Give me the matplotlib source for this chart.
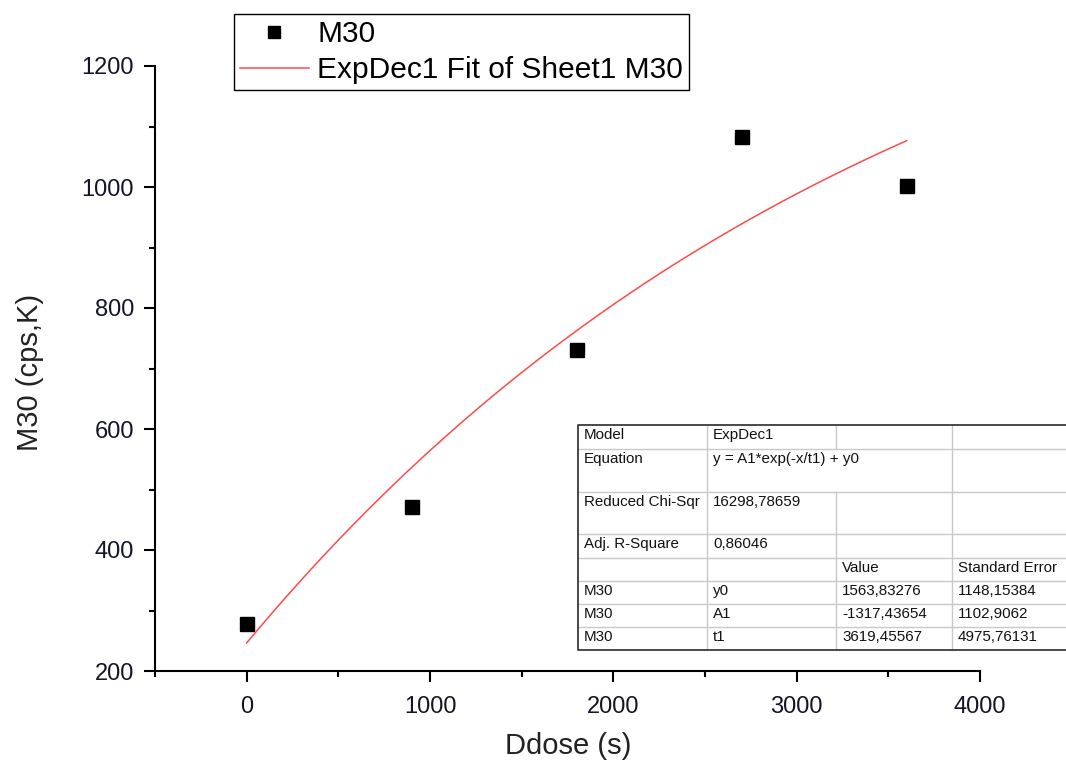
import numpy as np
import matplotlib
matplotlib.use("Agg")
import matplotlib.pyplot as plt
from matplotlib.lines import Line2D
from matplotlib.ticker import MultipleLocator

plt.rcParams['font.family'] = ['Liberation Sans', 'DejaVu Sans']

# measured points
dose = [0, 900, 1800, 2700, 3600]
m30 = [278, 471, 730, 1083, 1002]

# ExpDec1 fit parameters (from the fit table)
y0 = 1563.83276
A1 = -1317.43654
t1 = 3619.45567

# fit table contents
table_rows = [
    ["Model", "ExpDec1", "", ""],
    ["Equation", "y = A1*exp(-x/t1) + y0", None, ""],
    ["Reduced Chi-Sqr", "16298,78659", "", ""],
    ["Adj. R-Square", "0,86046", "", ""],
    ["", "", "Value", "Standard Error"],
    ["M30", "y0", "1563,83276", "1148,15384"],
    ["M30", "A1", "-1317,43654", "1102,9062"],
    ["M30", "t1", "3619,45567", "4975,76131"],
]

W, H = 1066, 765
fig = plt.figure(figsize=(W / 100, H / 100), dpi=100)
ax = fig.add_axes([155 / W, 1 - 671 / H, 825 / W, 605 / H])

ax.plot(dose, m30, 's', color='black', markersize=9.5, label='M30', zorder=3)
xf = np.linspace(min(dose), max(dose), 200)
ax.plot(xf, A1 * np.exp(-xf / t1) + y0, color='#ff4a4a', lw=1.1,
        label='ExpDec1 Fit of Sheet1 M30')

ax.set_xlim(-500, 4000)
ax.set_ylim(200, 1200)
ax.xaxis.set_major_locator(MultipleLocator(1000))
ax.xaxis.set_minor_locator(MultipleLocator(500))
ax.yaxis.set_major_locator(MultipleLocator(200))
ax.yaxis.set_minor_locator(MultipleLocator(100))
for s in ['top', 'right']:
    ax.spines[s].set_visible(False)
for s in ['left', 'bottom']:
    ax.spines[s].set_linewidth(1.5)
ax.tick_params(axis='both', which='major', direction='out', length=8,
               width=1.5, labelsize=17, labelcolor='#15152a')
ax.tick_params(axis='x', which='major', pad=10)
ax.tick_params(axis='y', which='major', pad=7)
ax.tick_params(which='minor', direction='out', length=4, width=1.5)

ax.set_xlabel('Ddose (s)', fontsize=21, color='#222222')
ax.set_ylabel('M30 (cps,K)', fontsize=21, color='#222222')
ax.xaxis.set_label_coords(568 / W, 1 - 732 / H, transform=fig.transFigure)
ax.yaxis.set_label_coords(44 / W, 1 - 372 / H, transform=fig.transFigure)

leg = ax.legend(loc='upper left', bbox_to_anchor=(234 / W, 1 - 14 / H),
                bbox_transform=fig.transFigure, borderaxespad=0,
                fontsize=21.5, frameon=True, fancybox=False, framealpha=1,
                edgecolor='black', handlelength=2.3, handletextpad=0.28,
                labelspacing=0.28, borderpad=0.2, markerscale=0.9)
leg.get_frame().set_linewidth(1.0)

# fit results table, drawn in pixel coordinates
col_x = [578, 707, 836, 952, 1066]
row_y = [425, 449, 492, 534, 558, 581, 604, 627, 650]


def fx(px):
    return px / W


def fy(py):
    return 1 - py / H


fig.patches.append(plt.Rectangle((fx(578), fy(650)), fx(1066) - fx(578),
                                 fy(425) - fy(650), transform=fig.transFigure,
                                 facecolor='white', edgecolor='none', zorder=4))
grey = '#c8c8c8'
for y in row_y[1:-1]:
    fig.add_artist(Line2D([fx(578), fx(1066)], [fy(y), fy(y)], color=grey,
                          lw=1.0, zorder=5))
for i, x in enumerate(col_x[1:4], start=1):
    if i == 2:
        # equation cell spans two columns
        segs = [(425, 449), (492, 650)]
    else:
        segs = [(425, 650)]
    for a, b in segs:
        fig.add_artist(Line2D([fx(x), fx(x)], [fy(a), fy(b)], color=grey,
                              lw=1.0, zorder=5))
# outer frame
fig.add_artist(Line2D([fx(1066), fx(578), fx(578), fx(1066)],
                      [fy(425), fy(425), fy(650), fy(650)],
                      color='#3a3a3a', lw=1.3, zorder=6))

for r, row in enumerate(table_rows):
    for c, txt in enumerate(row):
        if not txt:
            continue
        fig.text(fx(col_x[c] + 6), fy(row_y[r] + 3), txt, fontsize=10.9,
                 ha='left', va='top', color='#111111', zorder=7)

fig.savefig('out.png', dpi=100)
